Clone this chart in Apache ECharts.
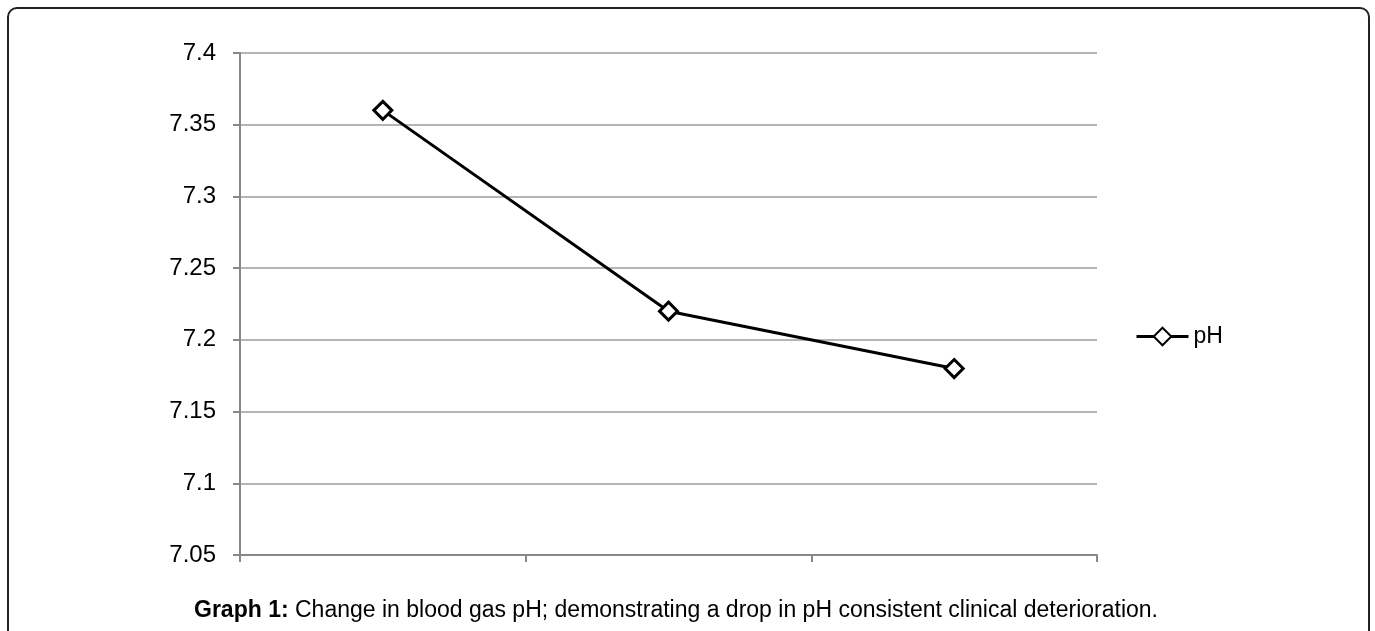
<!DOCTYPE html>
<html>
<head>
<meta charset="utf-8">
<script src="https://cdn.jsdelivr.net/npm/echarts@6/dist/echarts.min.js"></script>
<style>
  html, body { margin: 0; padding: 0; background: #fff; }
  #chart { width: 1375px; height: 631px; }
</style>
</head>
<body>
<div id="chart"></div>
<script>
// samples (no x labels in the original)
const categories = ['1', '2', '3'];
const phValues = [7.36, 7.22, 7.18];
const yTicks = [7.05, 7.1, 7.15, 7.2, 7.25, 7.3, 7.35, 7.4];

const chart = echarts.init(document.getElementById('chart'));

chart.setOption({
  animation: false,
  backgroundColor: '#fff',
  textStyle: { fontFamily: 'Liberation Sans, Arial, sans-serif' },
  graphic: [{
    type: 'rect',
    shape: { x: 8, y: 8, width: 1361, height: 700, r: 9 },
    style: { fill: 'none', stroke: '#222', lineWidth: 2 },
    silent: true
  }],
  title: {
    text: '{b|Graph 1:} Change in blood gas pH; demonstrating a drop in pH consistent clinical deterioration.',
    left: 671,
    textAlign: 'center',
    top: 594,
    textStyle: {
      fontSize: 23,
      fontWeight: 'normal',
      color: '#000',
      rich: {
        b: { fontSize: 23, fontWeight: 'bold', color: '#000' }
      }
    }
  },
  legend: {
    data: ['pH'],
    left: 1130,
    top: 320,
    itemWidth: 52,
    itemHeight: 22,
    itemGap: 8,
    lineStyle: { width: 3, color: '#000' },
    textStyle: { fontSize: 23, color: '#000' }
  },
  grid: { left: 240, right: 278, top: 53, bottom: 76 },
  xAxis: {
    type: 'category',
    data: categories,
    boundaryGap: true,
    axisLine: { lineStyle: { color: '#888', width: 2 } },
    axisTick: { show: true, length: 7, lineStyle: { color: '#888', width: 2 } },
    axisLabel: { show: false },
    splitLine: { show: false }
  },
  yAxis: {
    type: 'value',
    min: yTicks[0],
    max: yTicks[yTicks.length - 1],
    interval: 0.05,
    axisLine: { show: true, lineStyle: { color: '#888', width: 2 } },
    axisTick: { show: true, length: 7, lineStyle: { color: '#888', width: 2 } },
    axisLabel: {
      fontSize: 24,
      color: '#000',
      margin: 24,
      formatter: v => String(parseFloat(v.toFixed(2)))
    },
    splitLine: { lineStyle: { color: '#b5b5b5', width: 2 } }
  },
  series: [{
    name: 'pH',
    type: 'line',
    data: phValues,
    symbol: 'diamond',
    symbolSize: 18,
    lineStyle: { color: '#000', width: 3 },
    itemStyle: { color: '#fff', borderColor: '#000', borderWidth: 3 }
  }]
});
</script>
</body>
</html>
